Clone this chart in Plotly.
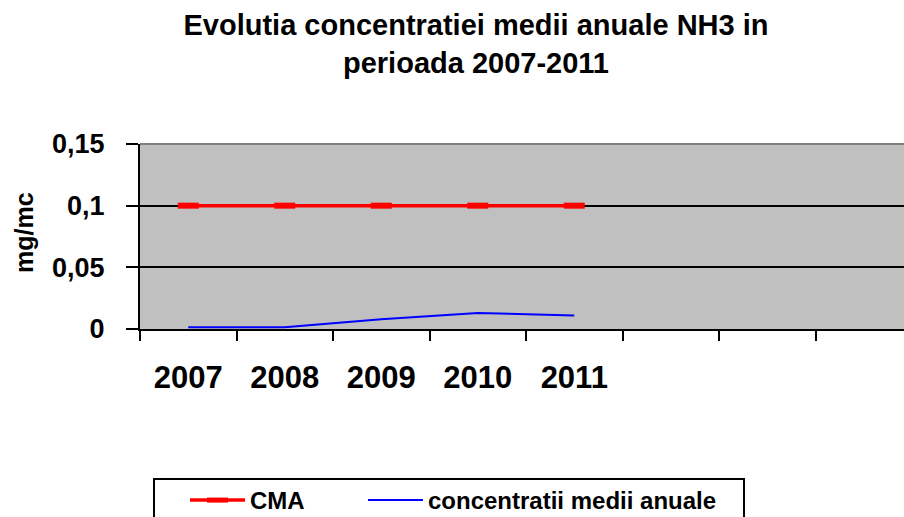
import plotly.graph_objects as go

years = [2007, 2008, 2009, 2010, 2011]
year_labels = ["2007", "2008", "2009", "2010", "2011"]
cma = [0.1, 0.1, 0.1, 0.1, 0.1]
conc = [0.0015, 0.0015, 0.008, 0.013, 0.011]
y_ticks = [0, 0.05, 0.1, 0.15]
y_ticktext = ["0", "0,05", "0,1", "0,15"]

W, H = 904, 517
ML, MR, MT = 140, 0, 144
MB = H - 329
PW = W - ML - MR
PH = H - MT - MB

def px_x(p):
    return (p - ML) / PW

def px_y(p):
    return (H - MB - p) / PH

FONT = "Liberation Sans, Arial, sans-serif"

fig = go.Figure()
fig.add_trace(go.Scatter(
    x=years, y=cma, name="<b>CMA</b>", mode="lines+markers",
    line=dict(color="#FF0000", width=3.5),
    marker=dict(symbol="line-ew", size=15, color="#FF0000",
                line=dict(color="#FF0000", width=6)),
    legend="legend",
))
fig.add_trace(go.Scatter(
    x=years, y=conc, name="<b>concentratii medii anuale</b>", mode="lines",
    line=dict(color="#0000FF", width=2),
    legend="legend2",
))

leg_common = dict(
    orientation="h",
    xref="container", yref="container",
    xanchor="left",
    y=1 - 478 / H, yanchor="top",
    font=dict(size=24, family=FONT, color="black"),
    bgcolor="rgba(0,0,0,0)",
    borderwidth=0,
    itemwidth=55,
)

fig.update_layout(
    width=W, height=H,
    margin=dict(l=ML, r=MR, t=MT, b=MB, pad=0, autoexpand=False),
    paper_bgcolor="white",
    plot_bgcolor="#C0C0C0",
    font=dict(family=FONT, color="black"),
    title=dict(
        text="<b>Evolutia concentratiei medii anuale NH3 in<br>perioada 2007-2011</b>",
        x=476 / W, xref="container", xanchor="center",
        y=1 - 35 / H, yref="container", yanchor="top",
        font=dict(size=29, family=FONT, color="black"),
    ),
    showlegend=True,
    legend=dict(x=185 / W, **leg_common),
    legend2=dict(x=363 / W, **leg_common),
    annotations=[dict(
        text="<b>mg/mc</b>", textangle=-90,
        xref="paper", yref="paper",
        x=px_x(24), y=px_y(233), xanchor="center", yanchor="middle",
        showarrow=False, font=dict(size=25, family=FONT, color="black"),
    )],
)

fig.update_xaxes(
    range=[2006.5, 2006.5 + PW / 96.5],
    tickmode="array", tickvals=years, ticktext=["<b>%s</b>" % t for t in year_labels],
    ticks="", showgrid=False, zeroline=False,
    showline=True, linecolor="black", linewidth=2,
    tickfont=dict(size=31, family=FONT, color="black"),
    ticklabelstandoff=20,
    minor=dict(tick0=2006.5, dtick=1, ticks="outside", ticklen=10,
               tickwidth=2, tickcolor="black", showgrid=False),
    fixedrange=True,
)
fig.update_yaxes(
    range=[0, 0.15],
    tickmode="array", tickvals=y_ticks, ticktext=["<b>%s</b>" % t for t in y_ticktext],
    ticks="outside", ticklen=12, tickwidth=2, tickcolor="black",
    showgrid=True, gridcolor="black", gridwidth=2,
    zeroline=False,
    showline=True, linecolor="black", linewidth=2,
    tickfont=dict(size=27, family=FONT, color="black"),
    ticklabelstandoff=16,
    fixedrange=True,
)

# top border of plot area (gray)
fig.add_shape(type="line", xref="paper", yref="paper",
              x0=0, x1=1, y0=1, y1=1,
              line=dict(color="#808080", width=2), layer="above")
# legend frame (its bottom edge lies below the picture, as in the reference)
fig.add_shape(type="rect", xref="paper", yref="paper",
              x0=px_x(154), x1=px_x(744), y0=px_y(479), y1=px_y(545),
              line=dict(color="black", width=2), fillcolor="rgba(0,0,0,0)",
              layer="above")

page_css = (
    "document.documentElement.style.margin='0';"
    "document.documentElement.style.overflow='hidden';"
    "document.body.style.margin='0';"
    "document.body.style.overflow='hidden';"
)
fig.write_html("out.html", post_script=page_css,
               config={"displayModeBar": False, "staticPlot": True})
